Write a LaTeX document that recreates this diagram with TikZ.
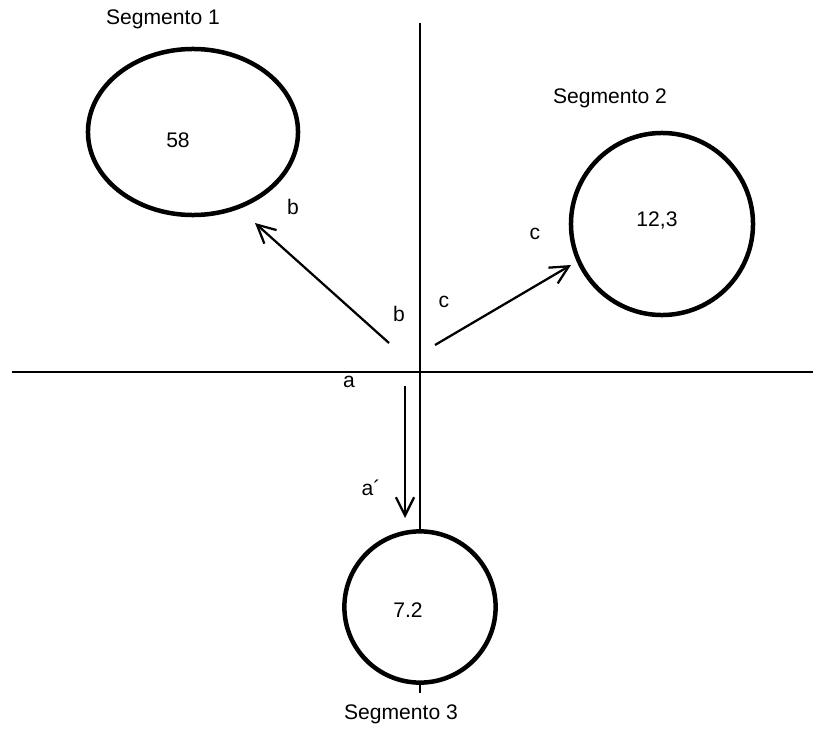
\documentclass[tikz,border=0pt]{standalone}
\usepackage{fontspec}
\setmainfont{Liberation Sans}
\usetikzlibrary{shapes.geometric,arrows.meta,positioning}

\begin{document}
\begin{tikzpicture}[x=0.025cm, y=-0.025cm,
    every node/.style={font=\fontsize{15}{18}\selectfont, inner sep=0pt},
    segcirc/.style={draw, line width=3.2pt, circle},
    seglbl/.style={},
    eje/.style={line width=1.4pt},
    flecha/.style={line width=1.6pt, -{Straight Barb[length=13pt, width=13pt]}}]
    \useasboundingbox (0,0) rectangle (815,729);

    % Segments
    \node[draw, line width=3.2pt, ellipse, minimum width=5.25cm, minimum height=4.15cm] (seg1) at (193,132) {};
    \node[segcirc, minimum size=4.55cm] (seg2) at (662,224) {};
    \node[segcirc, minimum size=3.78cm] (seg3) at (420,607) {};

    \node (val1) at (178,140) {58};
    \node (val2) at (657,220) {12,3};
    \node (val3) at (408,610) {7.2};

    \node[seglbl] (name1) at (163,19) {Segmento 1};
    \node[seglbl] (name2) at (610,98) {Segmento 2};
    \node[seglbl] (name3) at (401,714) {Segmento 3};

    % Axes
    \coordinate (hleft) at (12,372);
    \coordinate (hright) at (813,372);
    \coordinate (vtop) at (420,23);
    \coordinate (vbot) at (420,693);
    \draw[eje] (hleft) -- (hright);
    \draw[eje] (vtop) -- (seg3.north);
    \draw[eje] (seg3.south) -- (vbot);

    % Arrows
    \coordinate (bfoot) at (389,343);
    \coordinate (btip) at (255,223);
    \coordinate (cfoot) at (435,345);
    \coordinate (ctip) at (571,265);
    \coordinate (afoot) at (405,386);
    \coordinate (atip) at (405,518);
    \draw[flecha] (bfoot) -- (btip);
    \draw[flecha] (cfoot) -- (ctip);
    \draw[flecha] (afoot) -- (atip);

    \node (lb1) at (293,207) {b};
    \node (lb2) at (399,314) {b};
    \node (lc1) at (444,302) {c};
    \node (lc2) at (535,234) {c};
    \node (la1) at (349,382) {a};
    \node (la2) at (371,488) {a´};
\end{tikzpicture}
\end{document}
